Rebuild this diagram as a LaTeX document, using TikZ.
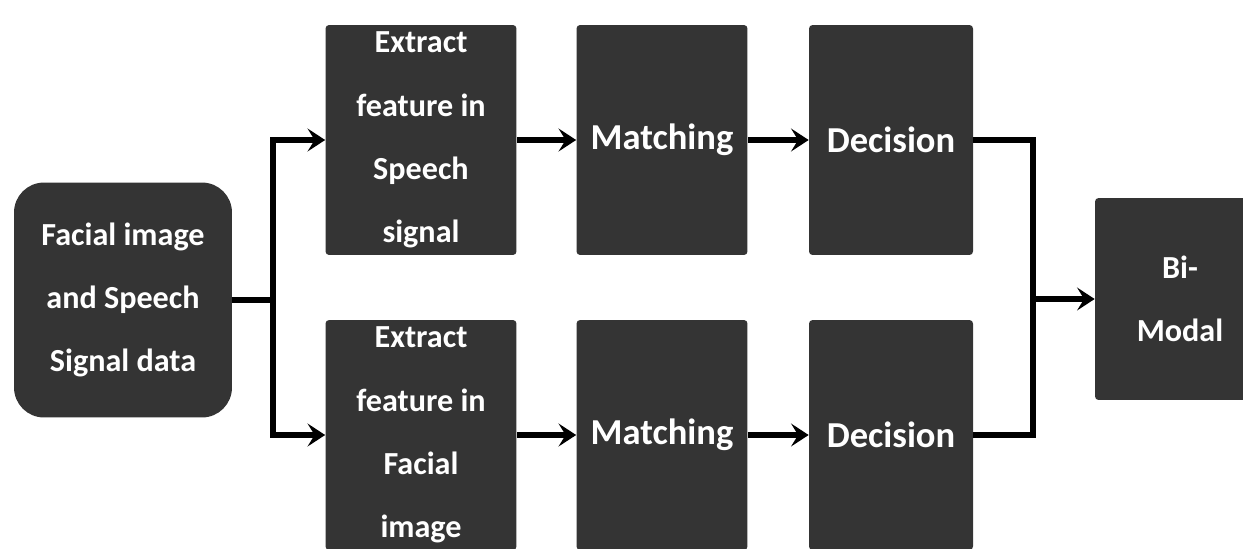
\documentclass[tikz,border=0pt]{standalone}
\usepackage{fontspec}
\setmainfont{Carlito}
\usetikzlibrary{arrows.meta}
\definecolor{laatikkovari}{RGB}{52,52,52}

\begin{document}
\begin{tikzpicture}[x=0.02cm,y=-0.02cm,
  laatikko/.style={fill=laatikkovari, text=white, align=center, rounded corners=2pt,
    minimum height=4.6cm, inner sep=0pt, font=\bfseries\fontsize{18.3}{36}\selectfont},
  iso/.style={font=\bfseries\fontsize{20.8}{36}\selectfont},
  nuoli/.style={line width=2.9pt, -{Stealth[length=10pt,width=13pt,inset=4pt]}},
  viiva/.style={line width=2.9pt}]
\clip (0,0) rectangle (1243,548);
\newcommand\rivi[3]{
\node[laatikko, minimum width=3.82cm] (e#1) at (421,#2) {#3};
\node[laatikko, iso, minimum width=3.42cm] (m#1) at (662,#2) {Matching};
\node[laatikko, iso, minimum width=3.28cm] (d#1) at (891,#2) {Decision};
\path[draw,nuoli] (e#1) -- (m#1);
\path[draw,nuoli] (m#1) -- (d#1);
}
\node[laatikko, minimum width=4.36cm, minimum height=4.7cm, rounded corners=0.6cm] (in) at (123,300)
  {Facial image\\and Speech\\Signal data};
\rivi{1}{140}{Extract\\feature in\\Speech\\signal}
\rivi{2}{435}{Extract\\feature in\\Facial\\image}
\node[laatikko, minimum width=3.4cm, minimum height=4.04cm] (bi) at (1180,299) {Bi-\\Modal};
% haarautuminen ja yhdistaminen
\coordinate (jako) at (273,300);
\coordinate (yhd) at (1033,299);
\path[draw,viiva] (in) -- (jako);
\path[draw,nuoli] (jako) |- (e1);
\path[draw,nuoli] (jako) |- (e2);
\path[draw,viiva] (d1) -| (yhd);
\path[draw,viiva] (d2) -| (yhd);
\path[draw,nuoli] (yhd) -- (bi);
\end{tikzpicture}
\end{document}
